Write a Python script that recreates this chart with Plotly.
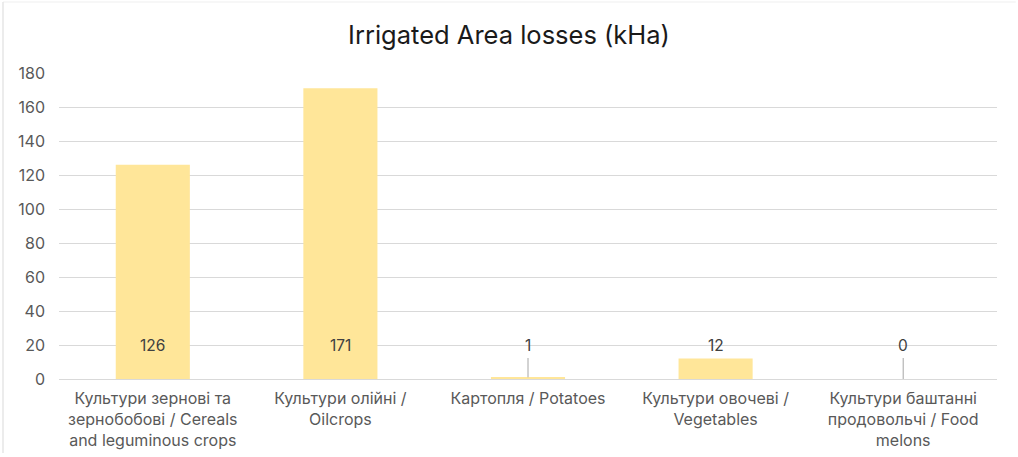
import plotly.graph_objects as go

# Irrigated area losses by crop group, thousand hectares
categories = [
    "Культури зернові та<br>зернобобові / Cereals<br>and leguminous crops",
    "Культури олійні /<br>Oilcrops",
    "Картопля / Potatoes",
    "Культури овочеві /<br>Vegetables",
    "Культури баштанні<br>продовольчі / Food<br>melons",
]
losses = [126, 171, 1, 12, 0]
y_ticks = [0, 20, 40, 60, 80, 100, 120, 140, 160, 180]

FONT = "Inter"
BAR_COLOR = "#FFE699"
TEXT_COLOR = "#404040"
LABEL_LEVEL = 20  # data labels sit at this height

fig = go.Figure(
    go.Bar(
        x=categories,
        y=losses,
        marker=dict(color=BAR_COLOR, line=dict(width=0)),
        hoverinfo="x+y",
    )
)

# data labels; small bars get a thin leader line down to the bar top
for cat, val in zip(categories, losses):
    leader = val < 5
    fig.add_annotation(
        x=cat,
        y=val if leader else LABEL_LEVEL,
        ax=cat,
        ay=LABEL_LEVEL,
        axref="x",
        ayref="y",
        xref="x",
        yref="y",
        text=str(val),
        showarrow=leader,
        arrowhead=0,
        arrowwidth=1,
        arrowcolor="#A6A6A6",
        standoff=0,
        startstandoff=2,
        font=dict(family=FONT, size=15.5, color=TEXT_COLOR),
    )

fig.update_layout(
    width=1018,
    height=457,
    paper_bgcolor="white",
    plot_bgcolor="white",
    margin=dict(l=59, r=21, t=73, b=78),
    bargap=0.605,
    showlegend=False,
    title=dict(
        text="Irrigated Area losses (kHa)",
        x=0.5,
        xanchor="center",
        y=1 - 35 / 457,
        yanchor="middle",
        font=dict(family=FONT, size=25.5, color="#1a1a1a"),
    ),
    xaxis=dict(
        automargin=False,
        showgrid=False,
        showline=False,
        ticks="",
        ticklabelstandoff=8,
        tickfont=dict(family=FONT, size=16, color="#595959"),
    ),
    yaxis=dict(
        automargin=False,
        range=[0, 180],
        tickvals=y_ticks,
        showgrid=True,
        gridcolor="#D9D9D9",
        gridwidth=1,
        zeroline=True,
        zerolinecolor="#D9D9D9",
        zerolinewidth=1,
        showline=False,
        ticks="",
        ticklabelstandoff=13,
        tickfont=dict(family=FONT, size=16, color="#595959"),
    ),
    shapes=[
        dict(type="line", xref="paper", yref="paper", x0=-56 / 938, x1=1.02,
             y0=1 + 71 / 306, y1=1 + 71 / 306,
             line=dict(color="#EFEFEF", width=1)),
        dict(type="line", xref="paper", yref="paper", x0=-56 / 938, x1=-56 / 938,
             y0=1 + 71 / 306, y1=-74 / 306,
             line=dict(color="#E6E6E6", width=1.5)),
    ],
)

fig.write_html("out.html")
